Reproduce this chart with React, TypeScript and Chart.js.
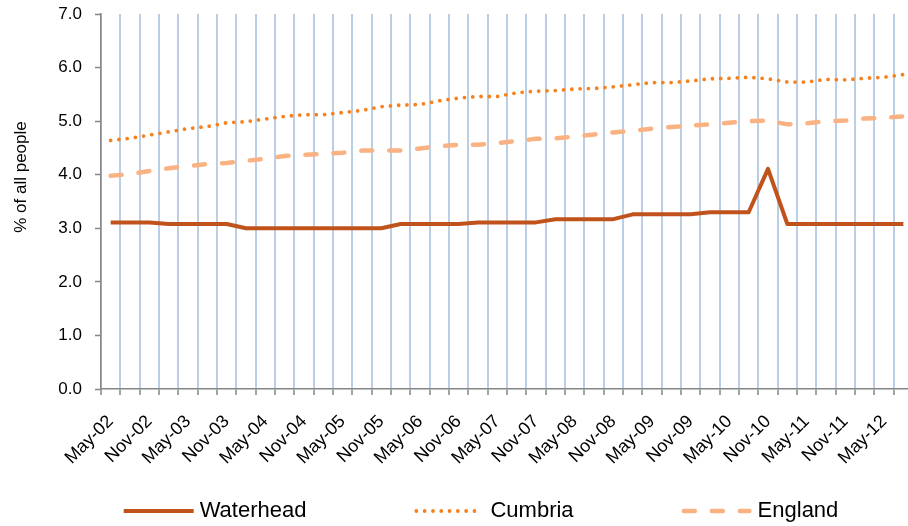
import React, { useEffect, useRef } from "react";
import { Chart, registerables } from "chart.js";

Chart.register(...registerables);

const categories = [
  "May-02", "Aug-02", "Nov-02", "Feb-03", "May-03", "Aug-03", "Nov-03", "Feb-04",
  "May-04", "Aug-04", "Nov-04", "Feb-05", "May-05", "Aug-05", "Nov-05", "Feb-06",
  "May-06", "Aug-06", "Nov-06", "Feb-07", "May-07", "Aug-07", "Nov-07", "Feb-08",
  "May-08", "Aug-08", "Nov-08", "Feb-09", "May-09", "Aug-09", "Nov-09", "Feb-10",
  "May-10", "Aug-10", "Nov-10", "Feb-11", "May-11", "Aug-11", "Nov-11", "Feb-12",
  "May-12", "Aug-12",
];

const waterhead = [
  3.11, 3.11, 3.11, 3.08, 3.08, 3.08, 3.08, 3.0, 3.0, 3.0,
  3.0, 3.0, 3.0, 3.0, 3.0, 3.08, 3.08, 3.08, 3.08, 3.11,
  3.11, 3.11, 3.11, 3.17, 3.17, 3.17, 3.17, 3.26, 3.26, 3.26,
  3.26, 3.3, 3.3, 3.3, 4.11, 3.08, 3.08, 3.08, 3.08, 3.08,
  3.08, 3.08,
];

const cumbria = [
  4.64, 4.68, 4.74, 4.8, 4.86, 4.9, 4.97, 4.99, 5.04, 5.09,
  5.12, 5.12, 5.16, 5.2, 5.27, 5.3, 5.31, 5.38, 5.43, 5.46,
  5.46, 5.53, 5.56, 5.57, 5.6, 5.61, 5.64, 5.68, 5.72, 5.72,
  5.75, 5.79, 5.8, 5.82, 5.79, 5.73, 5.73, 5.78, 5.77, 5.8,
  5.82, 5.87,
];

const england = [
  3.98, 4.01, 4.07, 4.12, 4.16, 4.2, 4.22, 4.26, 4.3, 4.35,
  4.37, 4.39, 4.41, 4.45, 4.45, 4.45, 4.49, 4.53, 4.56, 4.56,
  4.59, 4.63, 4.67, 4.68, 4.71, 4.75, 4.79, 4.82, 4.86, 4.89,
  4.92, 4.94, 4.97, 5.0, 5.01, 4.94, 4.96, 5.0, 5.01, 5.05,
  5.06, 5.09,
];

const yTicks = [0, 1, 2, 3, 4, 5, 6, 7];
const yTitle = "% of all people";

const FONT = "'Liberation Sans', Arial, sans-serif";

const yTitlePlugin = {
  id: "yTitlePlugin",
  afterDraw(chart: any) {
    const ctx = chart.ctx;
    ctx.save();
    ctx.font = `17px ${FONT}`;
    ctx.fillStyle = "#000";
    ctx.textAlign = "center";
    ctx.textBaseline = "middle";
    ctx.translate(21, 177);
    ctx.rotate(-Math.PI / 2);
    ctx.fillText(yTitle, 0, 0);
    ctx.restore();
  },
};

const legendPlugin = {
  id: "customLegend",
  afterDraw(chart: any) {
    const ctx = chart.ctx;
    const ds = chart.data.datasets;
    const sampleW = 70;
    const gap = 6;
    const itemGap = 108;
    const centerX = 481;
    const y = 511;
    ctx.save();
    ctx.font = `22px ${FONT}`;
    const widths = ds.map((d: any) => ctx.measureText(d.label).width);
    const total =
      widths.reduce((a: number, b: number) => a + b + sampleW + gap, 0) +
      itemGap * (ds.length - 1);
    let x = centerX - total / 2;
    ds.forEach((d: any, i: number) => {
      ctx.save();
      ctx.strokeStyle = d.borderColor;
      ctx.lineWidth = d.borderWidth;
      ctx.lineCap = d.borderCapStyle || "butt";
      ctx.setLineDash(d.borderDash || []);
      ctx.beginPath();
      const inset = d.borderCapStyle === "round" ? d.borderWidth / 2 : 0;
      ctx.moveTo(x + inset, y);
      ctx.lineTo(x + sampleW - inset, y);
      ctx.stroke();
      ctx.restore();
      ctx.fillStyle = "#000";
      ctx.textAlign = "left";
      ctx.textBaseline = "middle";
      ctx.fillText(d.label, x + sampleW + gap, y);
      x += sampleW + gap + widths[i] + itemGap;
    });
    ctx.restore();
  },
};

const zeroPadding = (scale: any) => {
  scale.paddingTop = 0;
  scale.paddingBottom = 0;
  scale.paddingLeft = 0;
  scale.paddingRight = 0;
};

export default function App() {
  const canvasRef = useRef<HTMLCanvasElement | null>(null);

  useEffect(() => {
    document.body.style.margin = "0";
    const canvas = canvasRef.current;
    if (!canvas) return;
    const chart = new Chart(canvas, {
      type: "line",
      data: {
        labels: categories,
        datasets: [
          {
            label: "Waterhead",
            data: waterhead,
            borderColor: "#C0521C",
            backgroundColor: "#C0521C",
            borderWidth: 4,
            pointRadius: 0,
            tension: 0,
            borderJoinStyle: "round",
          },
          {
            label: "Cumbria",
            data: cumbria,
            borderColor: "#F5811F",
            backgroundColor: "#F5811F",
            borderWidth: 3.8,
            borderDash: [0, 8.3],
            borderCapStyle: "round",
            pointRadius: 0,
            tension: 0,
          },
          {
            label: "England",
            data: england,
            borderColor: "#FAB282",
            backgroundColor: "#FAB282",
            borderWidth: 4.5,
            borderDash: [11, 17],
            borderCapStyle: "round",
            pointRadius: 0,
            tension: 0,
          },
        ],
      },
      options: {
        responsive: false,
        animation: false,
        devicePixelRatio: 1,
        layout: { padding: { top: 14, left: 0, right: 0, bottom: 0 } },
        plugins: {
          legend: { display: false },
          tooltip: { enabled: false },
          title: { display: false },
        },
        scales: {
          x: {
            type: "category",
            offset: true,
            grid: {
              display: true,
              offset: true,
              color: "#BACFE6",
              lineWidth: 2,
              drawOnChartArea: true,
              drawTicks: true,
              tickLength: 6,
              tickColor: "#868686",
              tickWidth: 1.5,
            },
            border: { display: true, color: "#868686", width: 1.5 },
            ticks: {
              autoSkip: false,
              maxRotation: 45,
              minRotation: 45,
              padding: 16,
              color: "#000",
              font: { family: FONT, size: 18 },
              callback: (_v: any, i: number) => (i % 2 === 0 ? categories[i] : ""),
            },
            afterFit: (scale: any) => {
              scale.height = 137;
              zeroPadding(scale);
            },
          },
          y: {
            min: 0,
            max: 7,
            afterBuildTicks: (scale: any) => {
              scale.ticks = yTicks.map((v) => ({ value: v }));
            },
            grid: {
              drawOnChartArea: false,
              drawTicks: true,
              tickLength: 6,
              tickColor: "#868686",
              tickWidth: 1.5,
            },
            border: { display: true, color: "#868686", width: 1.5 },
            ticks: {
              padding: 13,
              color: "#000",
              font: { family: FONT, size: 17 },
              callback: (v: any) => Number(v).toFixed(1),
            },
            afterFit: (scale: any) => {
              scale.width = 101;
              zeroPadding(scale);
            },
          },
        },
      },
      plugins: [yTitlePlugin, legendPlugin],
    });
    return () => chart.destroy();
  }, []);

  return (
    <div style={{ width: 908, height: 526, overflow: "hidden", position: "relative", background: "#fff" }}>
      <canvas ref={canvasRef} width={913} height={526} style={{ display: "block" }} />
    </div>
  );
}
